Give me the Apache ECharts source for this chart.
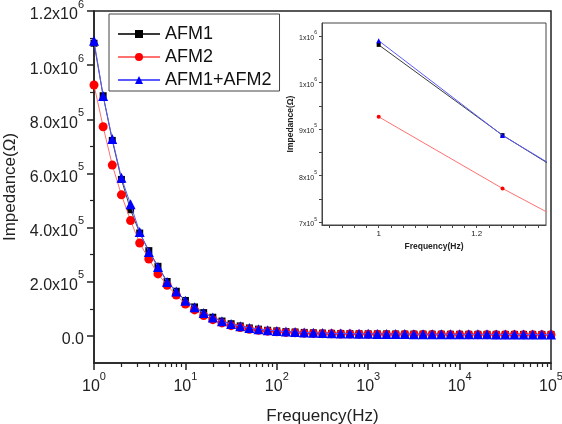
<!DOCTYPE html>
<html><head><meta charset="utf-8">
<script src="https://cdn.jsdelivr.net/npm/echarts@6/dist/echarts.min.js"></script>
<style>html,body{margin:0;padding:0;background:#fff}#c{width:562px;height:424px}</style>
</head><body><div id="c"></div>
<script>
// Frequency (Hz), 10 points per decade
const frequencies = [
  1, 1.259, 1.585, 1.995, 2.512, 3.162, 3.981, 5.012, 6.310, 7.943,
  10, 12.59, 15.85, 19.95, 25.12, 31.62, 39.81, 50.12, 63.10, 79.43,
  100, 125.9, 158.5, 199.5, 251.2, 316.2, 398.1, 501.2, 631.0, 794.3,
  1000, 1259, 1585, 1995, 2512, 3162, 3981, 5012, 6310, 7943,
  10000, 12589, 15849, 19953, 25119, 31623, 39811, 50119, 63096, 79433,
  100000
];
// Impedance (Ohm)
const afm1 = [
  1081000, 887000, 722000, 578000, 466000, 380000, 315000, 257000, 201000, 165000,
  131000, 107000, 86000, 69000, 55000, 45000, 37000, 29500, 25000, 21000,
  18500, 16000, 14500, 13000, 11500, 10500, 9600, 9100, 8600, 8100,
  7800, 7500, 7300, 7100, 6900, 6700, 6600, 6400, 6300, 6200,
  6100, 6000, 5900, 5900, 5800, 5700, 5700, 5600, 5600, 5500,
  5500
];
const afm2 = [
  926500, 772500, 631000, 521000, 426000, 343000, 284000, 229000, 187000, 151000,
  118000, 96000, 75000, 60000, 48000, 38000, 31000, 24500, 20500, 17500,
  15000, 13000, 11500, 10200, 9200, 8400, 7700, 7200, 6800, 6400,
  6100, 5900, 5700, 5500, 5300, 5200, 5000, 4900, 4800, 4700,
  4600, 4500, 4400, 4400, 4300, 4200, 4200, 4100, 4100, 4000,
  4000
];
const afm1afm2 = [
  1090000, 886500, 727000, 584000, 486000, 384000, 310000, 255000, 199000, 164000,
  130000, 106000, 85000, 68000, 54000, 44000, 36000, 29000, 25000, 21000,
  18500, 16000, 14500, 13000, 11500, 10500, 9500, 9000, 8500, 8000,
  7700, 7400, 7200, 7000, 6800, 6600, 6500, 6300, 6200, 6100,
  6000, 5900, 5800, 5800, 5700, 5600, 5600, 5500, 5500, 5400,
  5400
];
const seriesNames = ['AFM1', 'AFM2', 'AFM1+AFM2'];
const yLabelValues = [0, 200000, 400000, 600000, 800000, 1000000, 1200000];
const yMinorValues = [100000, 300000, 500000, 700000, 900000, 1100000];
const xMinorFactors = [2, 3, 4, 5, 6, 7, 8, 9];
const insetYLabelValues = [700000, 800000, 900000, 1000000, 1100000];
const insetYTickValues = [700000, 750000, 800000, 850000, 900000, 950000, 1000000, 1050000, 1100000];
const insetXLabelValues = [1, 1.2];

const FONT = '"Liberation Sans", Arial, sans-serif';
const AX = '#222';

function pairs(vals) { return frequencies.map((f, i) => [f, vals[i]]); }

const xMinorLog = [];
for (let d = 0; d < 5; d++) xMinorFactors.forEach(k => xMinorLog.push(Math.log10(k * Math.pow(10, d))));
const insetStep = Math.log10(1.2) / 8;
const insetXTicks = [];
for (let k = -4; k <= 13; k++) insetXTicks.push(k * insetStep);

function sciMain(v) {
  if (Math.abs(v) < 1e-9) return '{b|0.0}';
  const e = Math.floor(Math.log10(v) + 1e-9);
  const m = v / Math.pow(10, e);
  return '{b|' + m.toFixed(1) + 'x10}{s|' + e + '}';
}
function sciInset(v) {
  const e = Math.floor(Math.log10(v) + 1e-9);
  const m = Math.round(v / Math.pow(10, e));
  return '{b|' + m + 'x10}{s|' + e + '}';
}

const richMain = {
  b: { fontSize: 16, fontFamily: FONT, color: AX, lineHeight: 24, verticalAlign: 'bottom' },
  s: { fontSize: 11, fontFamily: FONT, color: AX, lineHeight: 11, verticalAlign: 'top' }
};
const richInset = {
  b: { fontSize: 7, fontFamily: FONT, color: AX, lineHeight: 11, verticalAlign: 'bottom' },
  s: { fontSize: 5, fontFamily: FONT, color: AX, lineHeight: 5, verticalAlign: 'top' }
};

const styles = [
  { symbol: 'rect', main: 7, inset: 4, marker: '#000000', line: '#3a3a3a' },
  { symbol: 'circle', main: 9, inset: 4, marker: '#ff0000', line: '#ff7070' },
  { symbol: 'triangle', main: 10, inset: 5, marker: '#0000ff', line: '#5a5aff' }
];
const datasets = [afm1, afm2, afm1afm2];

const series = [];
datasets.forEach((vals, i) => {
  series.push({
    name: seriesNames[i], type: 'line', xAxisIndex: 0, yAxisIndex: 0,
    data: pairs(vals), symbol: styles[i].symbol, symbolSize: styles[i].main,
    itemStyle: { color: styles[i].marker }, lineStyle: { color: styles[i].line, width: 1 },
    z: 2 + i
  });
});
datasets.forEach((vals, i) => {
  series.push({
    name: seriesNames[i], type: 'line', xAxisIndex: 2, yAxisIndex: 2,
    data: pairs(vals), symbol: styles[i].symbol, symbolSize: styles[i].inset,
    itemStyle: { color: styles[i].marker }, lineStyle: { color: styles[i].line, width: 1 },
    clip: true, z: 12 + i
  });
});

const option = {
  animation: false,
  backgroundColor: '#fff',
  textStyle: { fontFamily: FONT },
  legend: {
    data: seriesNames, orient: 'vertical', left: 109, top: 14,
    itemWidth: 42, itemHeight: 10, itemGap: 5, padding: [11, 8, 2, 8],
    borderColor: '#444', borderWidth: 1, backgroundColor: '#fff',
    textStyle: { fontSize: 18, color: '#111', fontFamily: FONT }
  },
  grid: [
    { left: 94, top: 11, width: 457, height: 352, show: true, borderColor: AX, borderWidth: 1.5, backgroundColor: 'transparent', containLabel: false, outerBoundsMode: 'none' },
    { left: 322, top: 23, width: 224, height: 202, show: true, borderColor: '#444', borderWidth: 1, backgroundColor: '#fff', z: 10, containLabel: false, outerBoundsMode: 'none' }
  ],
  xAxis: [
    {
      type: 'log', logBase: 10, min: 1, max: 100000, gridIndex: 0, position: 'bottom',
      axisLine: { onZero: false, lineStyle: { color: AX, width: 1.5 } },
      axisTick: { length: 7, lineStyle: { color: AX, width: 1.5 } },
      axisLabel: { margin: 8, formatter: v => '{b|10}{s|' + Math.round(Math.log10(v)) + '}', rich: richMain },
      splitLine: { show: false },
      name: 'Frequency(Hz)', nameLocation: 'middle', nameGap: 45,
      nameTextStyle: { fontSize: 17, color: AX, fontFamily: FONT }
    },
    {
      type: 'value', min: 0, max: 5, gridIndex: 0, position: 'bottom',
      axisLine: { show: false, onZero: false },
      axisTick: { show: true, length: 4, customValues: xMinorLog, lineStyle: { color: AX, width: 1.2 } },
      axisLabel: { show: false }, splitLine: { show: false }
    },
    {
      type: 'log', logBase: 10, min: 0.9, max: 1.365, gridIndex: 1, z: 11, position: 'bottom',
      axisLine: { onZero: false, lineStyle: { color: '#444', width: 1 } },
      axisTick: { show: false }, axisLabel: { show: false }, splitLine: { show: false },
      name: 'Frequency(Hz)', nameLocation: 'middle', nameGap: 17,
      nameTextStyle: { fontSize: 8.5, fontWeight: 'bold', color: AX, fontFamily: FONT }
    },
    {
      type: 'value', min: Math.log10(0.9), max: Math.log10(1.365), gridIndex: 1, z: 11, position: 'bottom',
      axisLine: { show: false, onZero: false },
      axisTick: { show: true, length: 3, customValues: insetXTicks, lineStyle: { color: '#444' } },
      axisLabel: {
        margin: 5, fontSize: 8, color: AX,
        customValues: insetXLabelValues.map(v => Math.log10(v)),
        formatter: v => String(Math.round(Math.pow(10, v) * 10) / 10)
      },
      splitLine: { show: false }
    }
  ],
  yAxis: [
    {
      type: 'value', min: -100000, max: 1200000, gridIndex: 0, position: 'left',
      axisLine: { show: true, onZero: false, lineStyle: { color: AX, width: 1.5 } },
      axisTick: { show: true, length: 7, customValues: yLabelValues, lineStyle: { color: AX, width: 1.5 } },
      axisLabel: { margin: 10, customValues: yLabelValues, formatter: sciMain, rich: richMain },
      splitLine: { show: false },
      name: 'Impedance(Ω)', nameLocation: 'middle', nameGap: 74,
      nameTextStyle: { fontSize: 17, color: AX, fontFamily: FONT }
    },
    {
      type: 'value', min: -100000, max: 1200000, gridIndex: 0, position: 'left',
      axisLine: { show: false, onZero: false },
      axisTick: { show: true, length: 4, customValues: yMinorValues, lineStyle: { color: AX, width: 1.2 } },
      axisLabel: { show: false }, splitLine: { show: false }
    },
    {
      type: 'value', min: 694000, max: 1128000, gridIndex: 1, z: 11, position: 'left',
      axisLine: { show: true, onZero: false, lineStyle: { color: '#444', width: 1 } },
      axisTick: { show: true, length: 3, customValues: insetYTickValues, lineStyle: { color: '#444' } },
      axisLabel: { margin: 5, customValues: insetYLabelValues, formatter: sciInset, rich: richInset },
      splitLine: { show: false },
      name: 'Impedance(Ω)', nameLocation: 'middle', nameGap: 27,
      nameTextStyle: { fontSize: 8.5, fontWeight: 'bold', color: AX, fontFamily: FONT }
    }
  ],
  series: series
};

const chart = echarts.init(document.getElementById('c'), null, { renderer: 'canvas' });
chart.setOption(option);
</script>
</body></html>
